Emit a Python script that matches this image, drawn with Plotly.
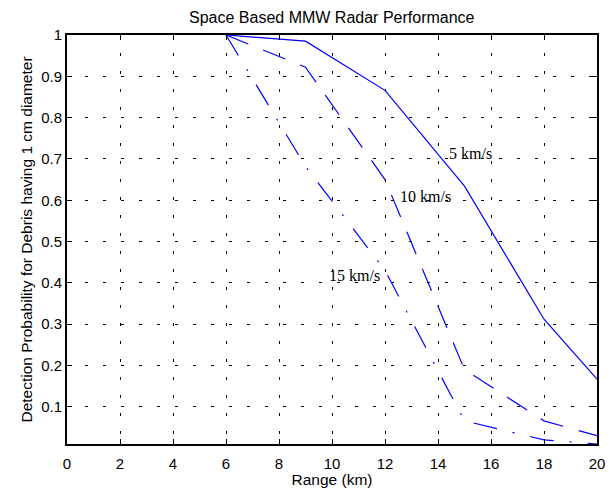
import plotly.graph_objects as go

range_km = [6, 9, 12, 15, 18, 20]
p_5kms = [1.0, 0.985, 0.866, 0.634, 0.312, 0.167]
p_10kms = [1.0, 0.922, 0.65, 0.19, 0.066, 0.03]
p_15kms = [1.0, 0.682, 0.43, 0.066, 0.02, 0.01]

series = [
    ("5 km/s", p_5kms, "solid"),
    ("10 km/s", p_10kms, "24px,16px"),
    ("15 km/s", p_15kms, "24px,16px,2px,16px"),
]

label_pos = [(14.34, 0.712), (12.5, 0.608), (9.81, 0.419)]

xticks = list(range(0, 21, 2))
yticks = [round(0.1 * i, 1) for i in range(1, 11)]
yticktext = ["0.1", "0.2", "0.3", "0.4", "0.5", "0.6", "0.7", "0.8", "0.9", "1"]

fig = go.Figure()
for name, vals, dash in series:
    fig.add_trace(go.Scatter(x=range_km, y=vals, mode="lines", name=name,
                             line=dict(color="#0000FF", width=1.2, dash=dash),
                             showlegend=False))

for (name, _, _), (lx, ly) in zip(series, label_pos):
    fig.add_annotation(x=lx, y=ly, text=name, showarrow=False, xanchor="left",
                       yanchor="middle",
                       font=dict(family="Liberation Serif", size=16, color="#000000"))

ymin = min(p_5kms + p_10kms + p_15kms)

axis_common = dict(showline=True, linecolor="black", linewidth=2, mirror="ticks",
                   ticks="inside", ticklen=5, tickcolor="black", tickwidth=1,
                   showgrid=True, gridcolor="black", gridwidth=1, griddash="3px,15px",
                   zeroline=False, automargin=False,
                   tickfont=dict(family="Liberation Sans", size=15, color="black"))

fig.update_layout(
    width=611, height=488,
    margin=dict(l=67, r=14, t=35, b=44),
    paper_bgcolor="white", plot_bgcolor="white",
    title=dict(text="Space Based MMW Radar Performance", x=0.543, xanchor="center",
               y=0.964, yanchor="middle",
               font=dict(family="Liberation Sans", size=16, color="black")),
    xaxis=dict(range=[0, 20], tickvals=xticks, ticklabelstandoff=5,
               title=dict(text="Range (km)", standoff=6,
                          font=dict(family="Liberation Sans", size=15.5, color="black")),
               **axis_common),
    yaxis=dict(range=[ymin, 1], tickvals=yticks, ticktext=yticktext,
               title=dict(text="Detection Probability for Debris having 1 cm diameter",
                          standoff=5,
                          font=dict(family="Liberation Sans", size=15.5, color="black")),
               **axis_common),
)

fig.write_html("out.html")
